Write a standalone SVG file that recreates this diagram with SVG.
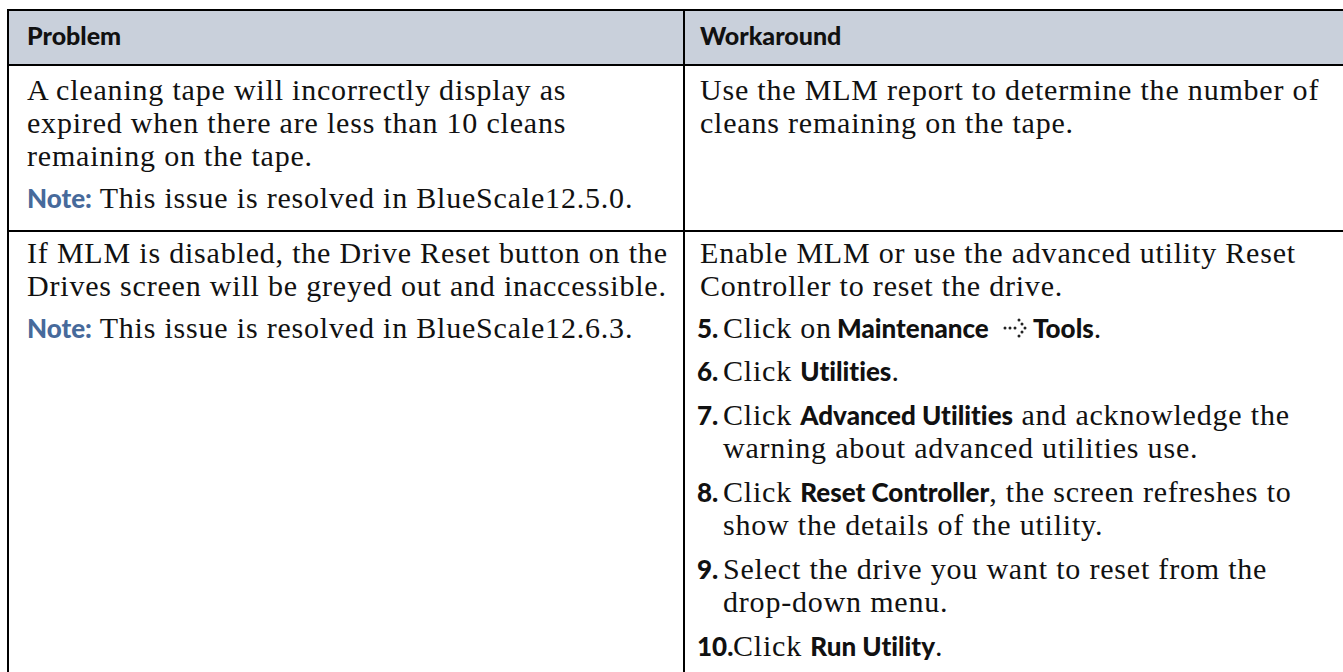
<svg xmlns="http://www.w3.org/2000/svg" width="1343" height="672" viewBox="0 0 1343 672">
  <style>
    text { font-variant-ligatures: none; font-feature-settings: "liga" 0, "clig" 0; }
    .body { font-family: "Liberation Serif", "Times New Roman", serif; font-size: 30px; letter-spacing: 0.8px; fill: #111; }
    .hd { font-family: Lato, "Open Sans", "Liberation Sans", sans-serif; font-weight: 900; font-size: 25px; fill: #111; }
    .b { font-family: Lato, "Open Sans", "Liberation Sans", sans-serif; font-weight: 900; font-size: 26px; letter-spacing: 0; fill: #111; }
    .note { font-family: Lato, "Open Sans", "Liberation Sans", sans-serif; font-weight: 900; font-size: 26px; letter-spacing: 0; fill: #476a9b; }
    .rule { stroke: #000; stroke-width: 2; fill: none; }
    .dot { fill: #222; }
  </style>

  <!-- header band -->
  <rect x="8" y="10" width="1335" height="55" fill="#c9d0db"/>

  <!-- table rules -->
  <g id="rules">
    <line class="rule" x1="8" y1="10" x2="1343" y2="10"/>
    <line class="rule" x1="8" y1="65" x2="1343" y2="65"/>
    <line class="rule" x1="8" y1="231" x2="1343" y2="231"/>
    <line class="rule" x1="8" y1="9" x2="8" y2="672"/>
    <line class="rule" x1="684" y1="9" x2="684" y2="672"/>
  </g>

  <g id="header">
    <text class="hd" x="27" y="45">Problem</text>
    <text class="hd" x="700" y="45">Workaround</text>
  </g>

  <g id="row1-problem">
    <text class="body" x="27" y="100">A cleaning tape will incorrectly display as</text>
    <text class="body" x="27" y="133">expired when there are less than 10 cleans</text>
    <text class="body" x="27" y="166">remaining on the tape.</text>
    <text class="body" x="27" y="208"><tspan class="note">Note:</tspan> This issue is resolved in BlueScale12.5.0.</text>
  </g>

  <g id="row1-workaround">
    <text class="body" x="700" y="100">Use the MLM report to determine the number of</text>
    <text class="body" x="700" y="133">cleans remaining on the tape.</text>
  </g>

  <g id="row2-problem">
    <text class="body" x="27" y="263">If MLM is disabled, the Drive Reset button on the</text>
    <text class="body" x="27" y="296">Drives screen will be greyed out and inaccessible.</text>
    <text class="body" x="27" y="338"><tspan class="note">Note:</tspan> This issue is resolved in BlueScale12.6.3.</text>
  </g>

  <g id="row2-workaround">
    <text class="body" x="700" y="263">Enable MLM or use the advanced utility Reset</text>
    <text class="body" x="700" y="296">Controller to reset the drive.</text>

    <text class="b" x="697" y="338">5.</text>
    <text class="body" x="723" y="338">Click on</text>
    <text class="b" x="837" y="338">Maintenance</text>
    <!-- dotted menu-path arrow -->
    <g id="path-arrow">
      <circle class="dot" cx="1005" cy="328" r="1.5"/>
      <circle class="dot" cx="1010" cy="328" r="1.5"/>
      <circle class="dot" cx="1015" cy="328" r="1.5"/>
      <circle class="dot" cx="1019" cy="320" r="1.5"/>
      <circle class="dot" cx="1022" cy="324" r="1.5"/>
      <circle class="dot" cx="1025" cy="328" r="1.5"/>
      <circle class="dot" cx="1022" cy="332" r="1.5"/>
      <circle class="dot" cx="1019" cy="336" r="1.5"/>
    </g>
    <text class="body" x="1033" y="338"><tspan class="b">Tools</tspan>.</text>

    <text class="b" x="697" y="381">6.</text>
    <text class="body" x="723" y="381">Click <tspan class="b">Utilities</tspan>.</text>

    <text class="b" x="697" y="425">7.</text>
    <text class="body" x="723" y="425">Click <tspan class="b">Advanced Utilities</tspan> and acknowledge the</text>
    <text class="body" x="723" y="458">warning about advanced utilities use.</text>

    <text class="b" x="697" y="502">8.</text>
    <text class="body" x="723" y="502">Click <tspan class="b">Reset Controller</tspan>, the screen refreshes to</text>
    <text class="body" x="723" y="535">show the details of the utility.</text>

    <text class="b" x="697" y="579">9.</text>
    <text class="body" x="723" y="579">Select the drive you want to reset from the</text>
    <text class="body" x="723" y="612">drop-down menu.</text>

    <text class="b" x="697" y="656">10.</text>
    <text class="body" x="733" y="656">Click <tspan class="b">Run Utility</tspan>.</text>
  </g>
</svg>
